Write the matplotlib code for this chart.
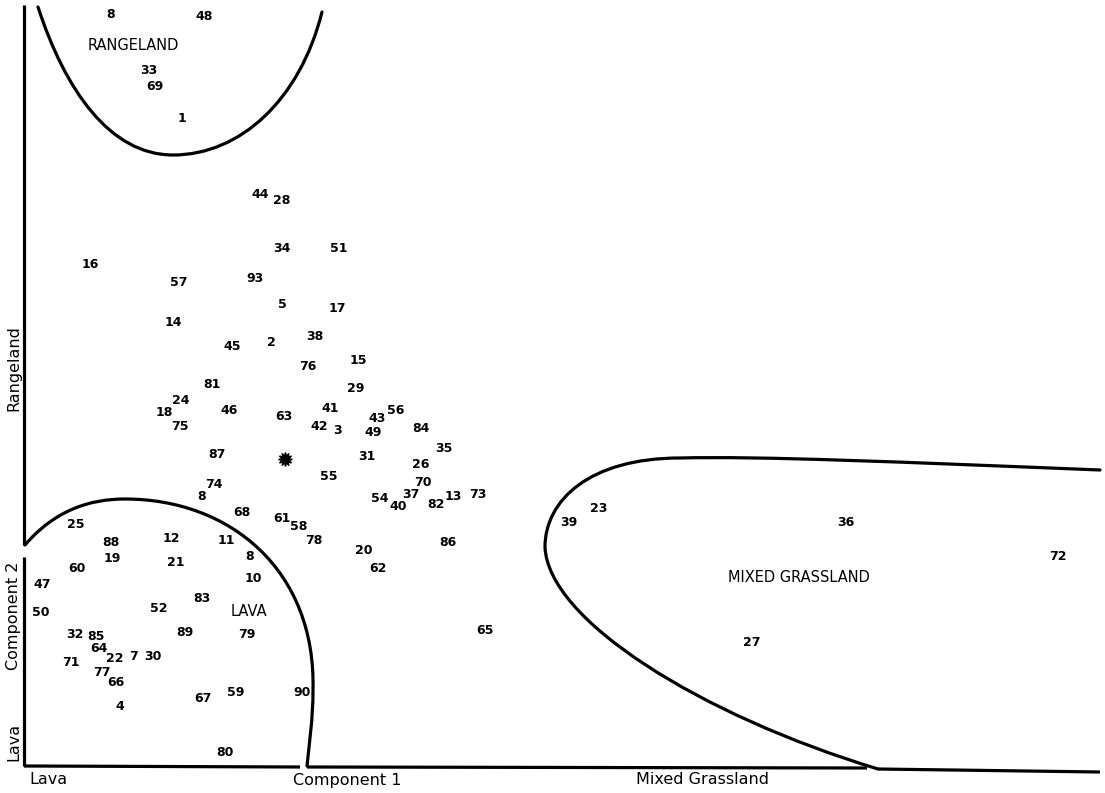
import matplotlib
matplotlib.use("Agg")
import matplotlib.pyplot as plt
from matplotlib.path import Path
from matplotlib.patches import PathPatch

# ---- stand numbers and their ordination positions (Component 1, Component 2) ----
stand_labels = ["8", "48", "33", "69", "1",
                "44", "28", "34", "51", "16", "57", "93", "5", "17", "14",
                "38", "2", "45", "76", "15", "81", "29", "24", "18", "75",
                "46", "63", "41", "42", "3", "43", "56", "49", "84", "35",
                "87", "31", "26", "55", "70", "74", "8", "37", "54", "40",
                "82", "13", "73", "68", "61", "58", "78", "12", "11", "20",
                "86", "8", "21", "62", "10",
                "25", "88", "19", "60", "47", "50", "52", "83", "89", "79",
                "32", "85", "64", "22", "7", "30", "71", "77", "66", "4",
                "67", "59", "90", "80",
                "65", "39", "23", "36", "72", "27"]
comp1 = [87, 180, 125, 131, 158,
         236, 258, 258, 315, 66, 155, 231, 258, 313, 149,
         291, 247, 208, 284, 334, 188, 332, 157, 140, 156,
         205, 260, 306, 295, 314, 353, 372, 349, 397, 420,
         193, 343, 397, 305, 399, 190, 178, 387, 356, 374,
         412, 429, 454, 218, 258, 275, 290, 147, 202, 340,
         424, 226, 152, 354, 229,
         52, 87, 88, 53, 18, 17, 135, 178, 161, 223,
         51, 72, 75, 91, 110, 129, 47, 78, 92, 96,
         179, 212, 278, 201,
         461, 545, 575, 822, 1034, 728]
comp2 = [753, 751, 698, 682, 650,
         573, 567, 520, 519, 503, 486, 490, 464, 459, 445,
         431, 426, 421, 402, 408, 384, 379, 367, 355, 341,
         358, 352, 360, 342, 338, 350, 357, 335, 339, 319,
         313, 311, 304, 291, 286, 283, 272, 273, 269, 262,
         263, 271, 274, 255, 249, 241, 227, 229, 228, 217,
         225, 211, 205, 199, 190,
         243, 225, 209, 199, 183, 155, 160, 169, 135, 134,
         134, 132, 119, 109, 111, 111, 106, 96, 86, 62,
         69, 76, 76, 15,
         138, 246, 260, 246, 211, 126]

# centroid marker
centroid_c1 = [261]
centroid_c2 = [309]

# ---- vegetation group envelopes (cubic Bezier outlines) ----
rangeland_env = [(14, 761), (41, 678), (86, 613), (149, 613),
                 (216, 613), (276, 668), (298, 756)]
lava_env = [(1, 223), (31, 258), (66, 269), (101, 269),
            (206, 269), (292, 198), (289, 78),
            (289, 48), (285, 23), (283, 2)]
mixed_env = [(1076, 298), (876, 306), (736, 312), (656, 310),
             (566, 310), (521, 268), (521, 221),
             (524, 148), (676, 53), (854, -1)]

group_names = ["RANGELAND", "LAVA", "MIXED GRASSLAND"]
group_c1 = [109, 225, 775]
group_c2 = [723, 157, 190]

# ---- axis segments (broken frame) ----
axis_segments = [[(0, 763), (0, 223)],
                 [(0, 211), (0, 2)],
                 [(0, 2), (276, 1)],
                 [(283, 1), (843, 0)],
                 [(854, -1), (1076, -4)]]

x_axis_labels = ["Lava", "Component 1", "Mixed Grassland"]
x_axis_pos = [24, 323, 679]
y_axis_labels = ["Rangeland", "Component 2", "Lava"]
y_axis_pos = [400, 152, 26]

fig = plt.figure(figsize=(11.05, 7.93), dpi=100)
ax = fig.add_axes([0, 0, 1, 1])
ax.set_xlim(-24, 1081)
ax.set_ylim(-25, 768)
ax.axis("off")

LW = 2.3


def bezier_patch(pts):
    codes = [Path.MOVETO] + [Path.CURVE4] * (len(pts) - 1)
    return PathPatch(Path(pts, codes), facecolor="none", edgecolor="black",
                     lw=LW, capstyle="round", joinstyle="round")


for env in (rangeland_env, lava_env, mixed_env):
    ax.add_patch(bezier_patch(env))

for seg in axis_segments:
    xs, ys = zip(*seg)
    ax.plot(xs, ys, color="black", lw=LW, solid_capstyle="butt")

for lab, x, y in zip(stand_labels, comp1, comp2):
    ax.text(x, y, lab, ha="center", va="center", fontsize=9,
            fontweight="bold", color="black", family="DejaVu Sans")

ax.plot(centroid_c1, centroid_c2, marker=(12, 1, 0), markersize=10,
        color="black", linestyle="none")

for name, x, y in zip(group_names, group_c1, group_c2):
    ax.text(x, y, name, ha="center", va="center", fontsize=10.5,
            color="black", family="DejaVu Sans")

for name, x in zip(x_axis_labels, x_axis_pos):
    ax.text(x, -12, name, ha="center", va="center", fontsize=11.5,
            color="black", family="DejaVu Sans")

for name, y in zip(y_axis_labels, y_axis_pos):
    ax.text(-10, y, name, ha="center", va="center", fontsize=11.5,
            rotation=90, color="black", family="DejaVu Sans")

fig.savefig("out.png", dpi=100, facecolor="white")
